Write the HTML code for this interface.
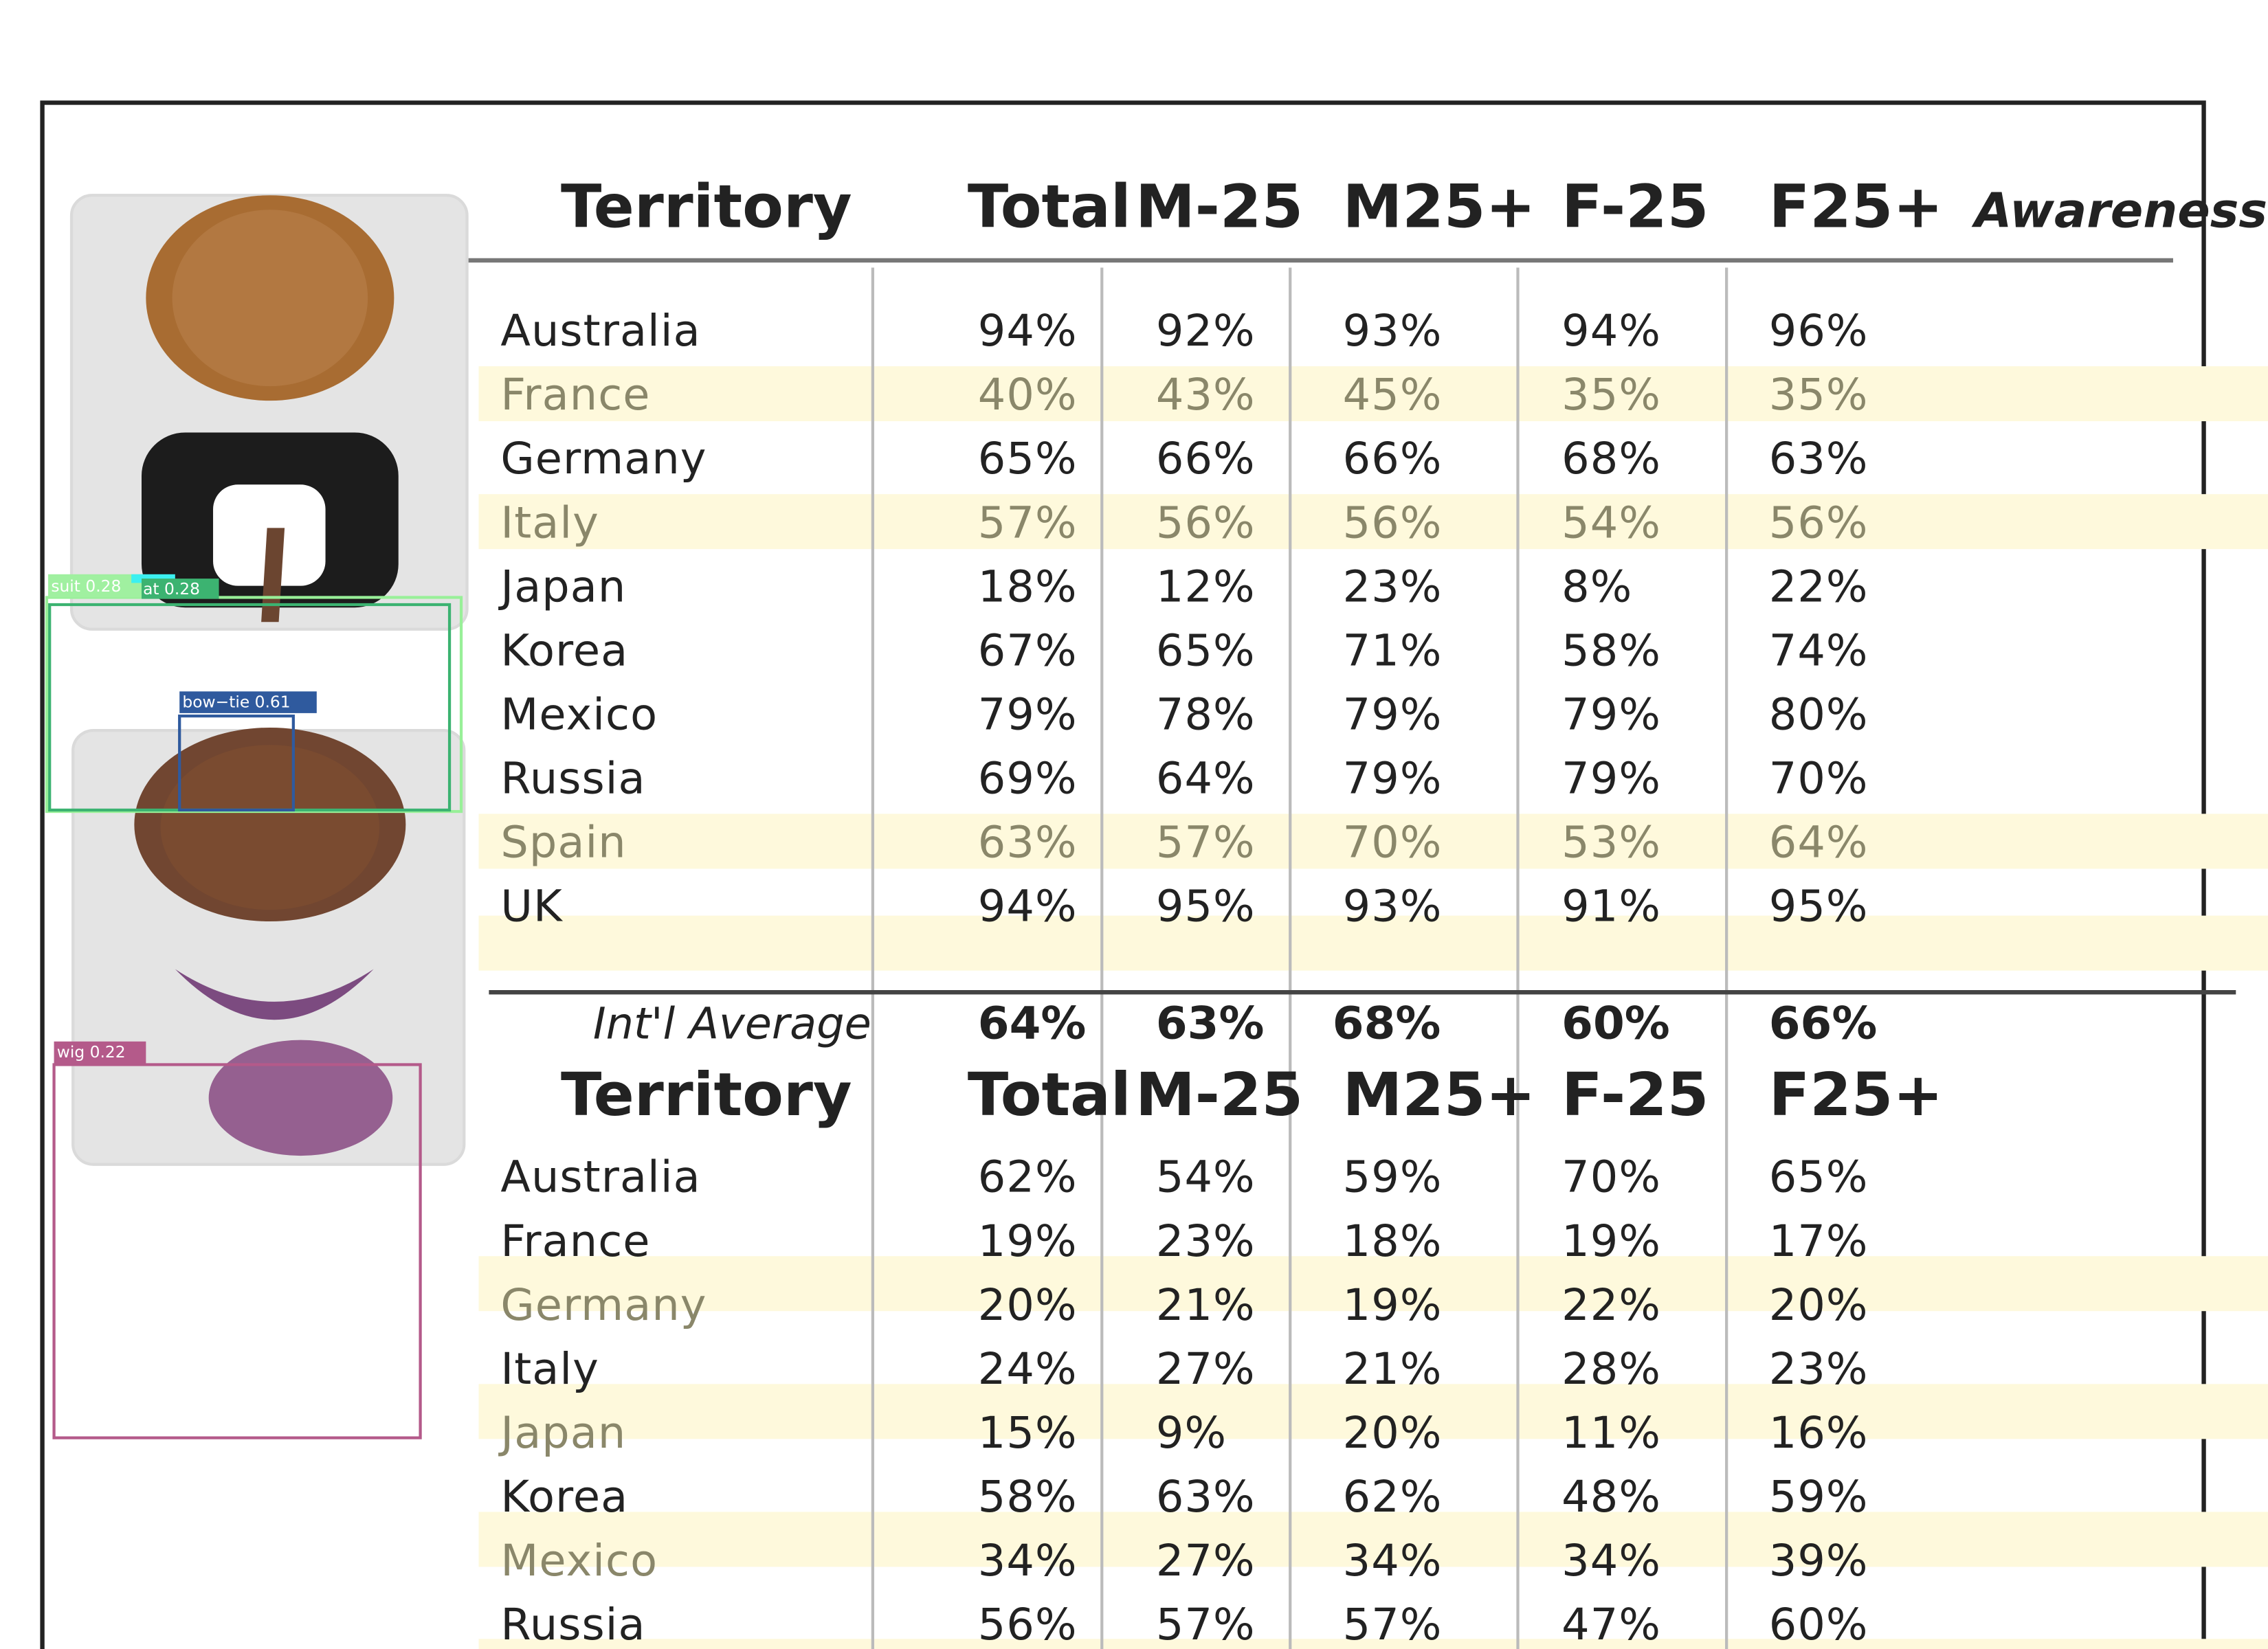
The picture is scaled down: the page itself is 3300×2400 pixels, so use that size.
<!DOCTYPE html>
<html><head><meta charset="utf-8">
<style>
html,body{margin:0;padding:0;background:#fff;}
svg{display:block;}
text{font-family:"DejaVu Sans","Liberation Sans",sans-serif;}
</style></head>
<body>
<svg id="chart" width="3300" height="2400" viewBox="0 0 1554 1140" preserveAspectRatio="none" xmlns="http://www.w3.org/2000/svg">
  <rect x="0" y="0" width="1554" height="1140" fill="#fff"/>
  <rect x="29" y="71" width="1481" height="1080" fill="none" stroke="#222" stroke-width="3"/>

  <!-- icon panel 1 -->
  <g>
    <rect x="49" y="135" width="271" height="300" rx="14" fill="#e4e4e4" stroke="#dadada" stroke-width="2"/>
    <ellipse cx="185" cy="206" rx="85" ry="71" fill="#a86c32"/>
    <ellipse cx="185" cy="206" rx="67" ry="61" fill="#b27841"/>
    <rect x="97" y="299" width="176" height="121" rx="30" fill="#1c1c1c"/>
    <rect x="146" y="335" width="77" height="70" rx="17" fill="#fff"/>
    <polygon points="183,365 195,365 191,430 179,430" fill="#6b4530"/>
  </g>
  <!-- icon panel 2 -->
  <g>
    <rect x="50" y="505" width="268" height="300" rx="14" fill="#e4e4e4" stroke="#dadada" stroke-width="2"/>
    <ellipse cx="185" cy="570" rx="93" ry="67" fill="#714631"/>
    <ellipse cx="185" cy="572" rx="75" ry="57" fill="#7a4b30"/>
    <path d="M120,670 Q188,740 256,670 Q188,715 120,670 Z" fill="#7c4b80"/>
    <ellipse cx="206" cy="759" rx="63" ry="40" fill="#956090"/>
  </g>
  <!-- detection boxes -->
  <g>
    <rect x="32" y="413" width="284" height="148" fill="none" stroke="#98f098" stroke-width="2"/>
    <rect x="34" y="418" width="274" height="142" fill="none" stroke="#3cb371" stroke-width="2"/>
    <rect x="33" y="397" width="64" height="16" fill="#a0f0a0"/>
    <rect x="90" y="397" width="30" height="6" fill="#3cf0f0"/>
    <rect x="97" y="400" width="53" height="14" fill="#3cb371"/>
    <text x="35" y="409" font-size="11" fill="#fff">suit 0.28</text>
    <text x="98" y="411" font-size="11" fill="#fff">at 0.28</text>
    <rect x="123" y="495" width="78" height="65" fill="none" stroke="#2f5a9e" stroke-width="2"/>
    <rect x="123" y="478" width="94" height="15" fill="#2f5a9e"/>
    <text x="125" y="489" font-size="11" fill="#fff">bow−tie 0.61</text>
    <rect x="37" y="736" width="251" height="258" fill="none" stroke="#b45a8a" stroke-width="2"/>
    <rect x="37" y="720" width="63" height="16" fill="#b45a8a"/>
    <text x="39" y="731" font-size="11" fill="#fff">wig 0.22</text>
  </g>

  <g id="table"></g>
</svg>
<script>
const headers = ["Territory","Total","M-25","M25+","F-25","F25+"];
const territories1 = ["Australia","France","Germany","Italy","Japan","Korea","Mexico","Russia","Spain","UK"];
const total1 = ["94%","40%","65%","57%","18%","67%","79%","69%","63%","94%"];
const m25u1 = ["92%","43%","66%","56%","12%","65%","78%","64%","57%","95%"];
const m25p1 = ["93%","45%","66%","56%","23%","71%","79%","79%","70%","93%"];
const f25u1 = ["94%","35%","68%","54%","8%","58%","79%","79%","53%","91%"];
const f25p1 = ["96%","35%","63%","56%","22%","74%","80%","70%","64%","95%"];
const highlight1 = [1,3,8];
const averages = ["64%","63%","68%","60%","66%"];
const territories2 = ["Australia","France","Germany","Italy","Japan","Korea","Mexico","Russia"];
const total2 = ["62%","19%","20%","24%","15%","58%","34%","56%"];
const m25u2 = ["54%","23%","21%","27%","9%","63%","27%","57%"];
const m25p2 = ["59%","18%","19%","21%","20%","62%","34%","57%"];
const f25u2 = ["70%","19%","22%","28%","11%","48%","34%","47%"];
const f25p2 = ["65%","17%","20%","23%","16%","59%","39%","60%"];
const highlight2 = [2,4,6];

const NS = "http://www.w3.org/2000/svg";
const g = document.getElementById("table");
const colX = [670,792,920,1070,1212];
const hdrX = [663,778,920,1070,1212];
const rowPitch = 44.2;
function mk(tag, attrs, txt){
  const e = document.createElementNS(NS, tag);
  for (const k in attrs) e.setAttribute(k, attrs[k]);
  if (txt !== undefined) e.textContent = txt;
  g.appendChild(e);
  return e;
}
function bandFor(y){ return mk("rect",{x:328,y:y,width:1226,height:38,fill:"#fef9dc"}); }

// bands table 1
highlight1.forEach(i=>{
  const b = bandFor(228 + i*rowPitch - 19);
  
  
});
{ const b = bandFor(633);
  
   }
// bands table 2
highlight2.forEach(i=>{
  const b = bandFor(813 + i*rowPitch - 33);
  
  
});
{ const b = bandFor(1133);
  
   }

// lines
{ const l = mk("line",{x1:321,y1:180,x2:1489,y2:180,stroke:"#777","stroke-width":3});
  
   }
[598,755,884,1040,1183].forEach(x=>{
  const l = mk("line",{x1:x,y1:185,x2:x,y2:1140,stroke:"#bbb","stroke-width":2});
  
  
});
{ const l = mk("line",{x1:335,y1:686,x2:1532,y2:686,stroke:"#444","stroke-width":3});
  
   }

function header(y, withAwareness){
  const t = mk("text",{x:484,y:y,"font-size":41,"font-weight":"bold",fill:"#222","text-anchor":"middle"},headers[0]);
  
  
  for (let i=1;i<headers.length;i++){
    const h = mk("text",{x:hdrX[i-1],y:y,"font-size":41,"font-weight":"bold",fill:"#222"},headers[i]);
    
    
  }
  if (withAwareness){
    const a = mk("text",{x:1353,y:y,"font-size":33,"font-weight":"bold","font-style":"italic",fill:"#222"},"Awareness");
    
    
  }
}
function rows(names, cols, hl, y0, shiftHl){
  names.forEach((n,i)=>{
    const y = y0 + i*rowPitch + 11;
    const isHl = hl.indexOf(i) >= 0;
    const nameColor = (isHl) ? "#8a876a" : "#222";
    const t = mk("text",{x:343,y:y,"font-size":30,fill:nameColor,"letter-spacing":"0.5"},n);
    
    
    cols.forEach((c,j)=>{
      const col = (isHl && !shiftHl) ? "#8a876a" : "#222";
      const v = mk("text",{x:colX[j],y:y,"font-size":30,fill:col,"letter-spacing":"0.5"},c[i]);
      
      
    });
  });
}
header(157, true);
rows(territories1,[total1,m25u1,m25p1,f25u1,f25p1],highlight1,228,false);

const avg = mk("text",{x:597,y:718,"font-size":30,"font-style":"italic",fill:"#222","text-anchor":"end"},"Int'l Average");


const avgX = [670,792,913,1070,1212];
averages.forEach((v,j)=>{
  const t = mk("text",{x:avgX[j],y:718,"font-size":31,"font-weight":"bold",fill:"#222"},v);
  
  
});
header(771, false);
rows(territories2,[total2,m25u2,m25p2,f25u2,f25p2],highlight2,813,true);
</script>
</body></html>
